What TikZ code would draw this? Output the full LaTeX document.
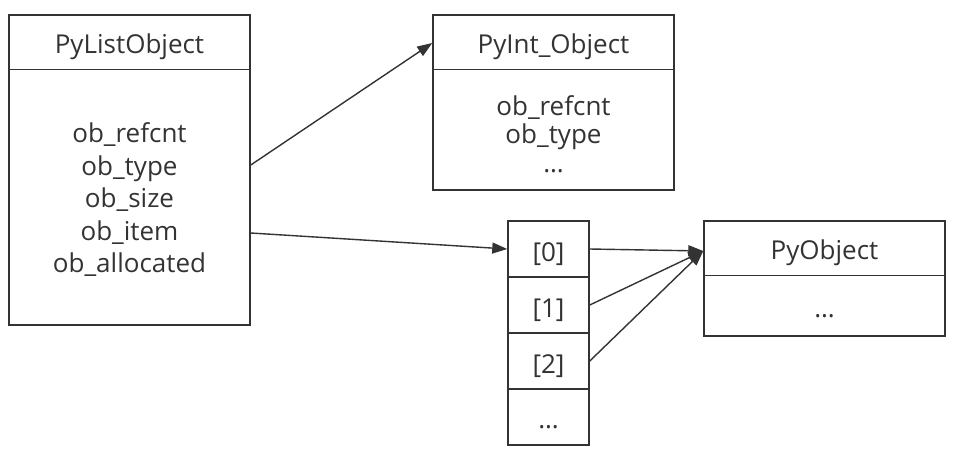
\documentclass[tikz,border=0pt]{standalone}
\usepackage{fontspec}
\setmainfont{Open Sans}
\usetikzlibrary{arrows.meta}
\definecolor{ink}{HTML}{333333}
\tikzset{
  box/.style={draw=ink, line width=1.5pt, inner sep=0pt, minimum width=241pt},
  cell/.style={draw=ink, line width=1.5pt, inner sep=0pt, minimum width=81pt, minimum height=56pt},
  label/.style={text=ink, inner sep=0pt, font=\fontsize{26}{30}\selectfont},
  sep/.style={draw=ink, line width=1.5pt},
  arr/.style={draw=ink, line width=1.4pt, -{Triangle[length=15pt,width=11pt]}},
}
\begin{document}
\begin{tikzpicture}[x=1pt,y=-1pt]
\useasboundingbox (0,0) rectangle (963,461);

% PyListObject
\node[box, minimum height=310pt] (list) at (129.5,170) {};
\draw[sep] ([yshift=-55pt]list.north west) -- ([yshift=-55pt]list.north east);
\node[label, anchor=base] (listhead) at (129.5,53) {PyListObject};
\node[label, align=center, font=\fontsize{26}{32.5}\selectfont] (listbody) at (129.5,200)
  {ob\_refcnt\\ob\_type\\ob\_size\\ob\_item\\ob\_allocated};

% PyInt_Object
\node[box, minimum height=175pt] (int) at (553.5,102.5) {};
\draw[sep] ([yshift=-55pt]int.north west) -- ([yshift=-55pt]int.north east);
\node[label, anchor=base] (inthead) at (553.5,53) {PyInt\_Object};
\node[label, align=center, font=\fontsize{26}{28.5}\selectfont] (intbody) at (553.5,134)
  {ob\_refcnt\\ob\_type\\…};

% ob_item array
\node[cell] (c0) at (548.5,249) {};
\node[cell] (c1) at (548.5,305) {};
\node[cell] (c2) at (548.5,361) {};
\node[cell] (c3) at (548.5,417) {};
\node[label, anchor=base] (t0) at (548.5,261) {[0]};
\node[label, anchor=base] (t1) at (548.5,317) {[1]};
\node[label, anchor=base] (t2) at (548.5,373) {[2]};
\node[label, anchor=base] (t3) at (548.5,428) {…};

% PyObject
\node[box, minimum height=115pt] (obj) at (824.5,278.5) {};
\draw[sep] ([yshift=-55pt]obj.north west) -- ([yshift=-55pt]obj.north east);
\node[label, anchor=base] (objhead) at (824.5,259) {PyObject};
\node[label, anchor=base] (objbody) at (824.5,317) {…};

% connectors
\coordinate (objtip) at (obj.west |- 0,251);
\draw[arr] (list.east |- 0,165) -- (int.west |- 0,43);
\draw[arr] (list.east |- 0,233) -- (c0.west);
\draw[arr] (c0.east) -- (objtip);
\draw[arr] (c1.east) -- (objtip);
\draw[arr] (c2.east) -- (objtip);
\end{tikzpicture}
\end{document}
